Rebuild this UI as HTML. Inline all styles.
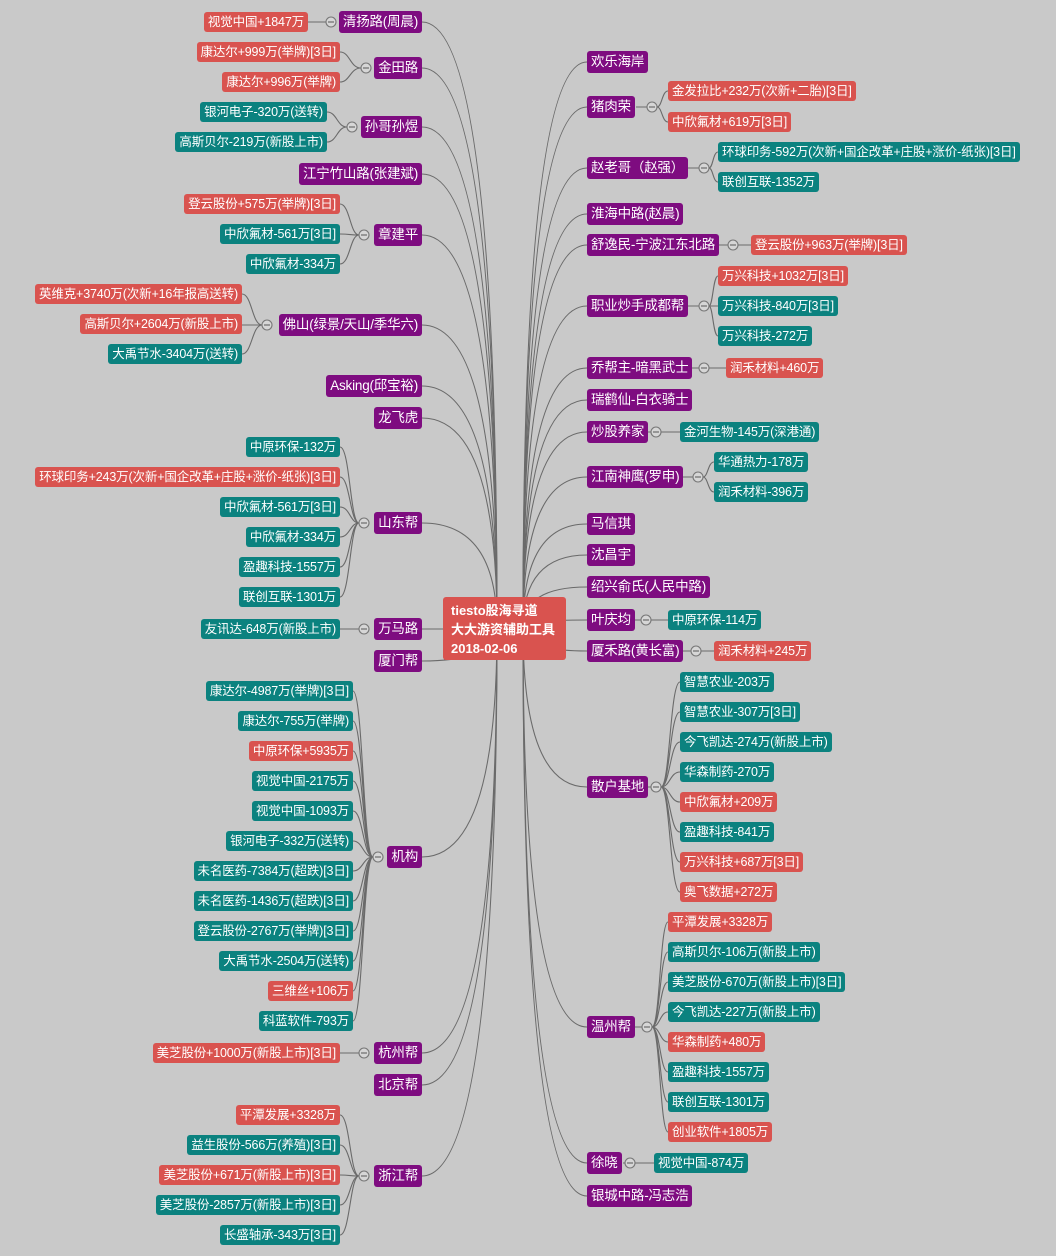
<!DOCTYPE html>
<html><head><meta charset="utf-8"><style>
body{margin:0;background:#c9c9c9;}
#c{position:relative;width:1056px;height:1256px;overflow:hidden;background:#c9c9c9;font-family:"Liberation Sans","Noto Sans CJK SC",sans-serif;}
.n{position:absolute;height:20px;line-height:20px;font-size:12.5px;color:#fff;padding:0 4px;border-radius:3px;white-space:nowrap;letter-spacing:-0.15px;}
.b{height:22px;line-height:22px;font-size:13.5px;letter-spacing:-0.2px;}
.p{background:#7e0c80}.r{background:#d9534f}.t{background:#0b827f}
svg{position:absolute;left:0;top:0}
</style></head><body><div id="c">
<svg width="1056" height="1256" fill="none" stroke="#6a6a6a" stroke-width="1.1">
<g>
<path d="M422 22Q497 22 497 628"/><path d="M422 68Q497 68 497 628"/><path d="M422 127Q497 127 497 628"/><path d="M422 174Q497 174 497 628"/><path d="M422 235Q497 235 497 628"/><path d="M422 325Q497 325 497 628"/><path d="M422 386Q497 386 497 628"/><path d="M422 418Q497 418 497 628"/><path d="M422 523Q497 523 497 628"/><path d="M422 629L497 629"/><path d="M422 661Q497 661 497 628"/><path d="M422 857Q497 857 497 628"/><path d="M422 1053Q497 1053 497 628"/><path d="M422 1085Q497 1085 497 628"/><path d="M422 1176Q497 1176 497 628"/>
<path d="M587 62Q523 62 523 628"/><path d="M587 107Q523 107 523 628"/><path d="M587 168Q523 168 523 628"/><path d="M587 214Q523 214 523 628"/><path d="M587 245Q523 245 523 628"/><path d="M587 306Q523 306 523 628"/><path d="M587 368Q523 368 523 628"/><path d="M587 400Q523 400 523 628"/><path d="M587 432Q523 432 523 628"/><path d="M587 477Q523 477 523 628"/><path d="M587 524Q523 524 523 628"/><path d="M587 555Q523 555 523 628"/><path d="M587 587Q523 587 523 628"/><path d="M587 620Q523 620 523 628"/><path d="M587 651Q523 651 523 628"/><path d="M587 787Q523 787 523 628"/><path d="M587 1027Q523 1027 523 628"/><path d="M587 1163Q523 1163 523 628"/><path d="M587 1196Q523 1196 523 628"/>
</g>
<g>
<path d="M308 22H326"/>
<path d="M361 68C350 68 350 52 340 52M361 68C350 68 350 82 340 82"/>
<path d="M347 127C337 127 337 112 327 112M347 127C337 127 337 142 327 142"/>
<path d="M359 235C350 235 350 204 340 204M359 235C350 235 350 234 340 234M359 235C350 235 350 264 340 264"/>
<path d="M262 325C252 325 252 294 242 294M262 325H242M262 325C252 325 252 354 242 354"/>
<path d="M359 523C350 523 350 447 340 447M359 523C350 523 350 477 340 477M359 523C350 523 350 507 340 507M359 523C350 523 350 537 340 537M359 523C350 523 350 567 340 567M359 523C350 523 350 597 340 597"/>
<path d="M340 629H359"/>
<path d="M373 857C363 857 363 691 353 691M373 857C363 857 363 721 353 721M373 857C363 857 363 751 353 751M373 857C363 857 363 781 353 781M373 857C363 857 363 811 353 811M373 857C363 857 363 841 353 841M373 857C363 857 363 871 353 871M373 857C363 857 363 901 353 901M373 857C363 857 363 931 353 931M373 857C363 857 363 961 353 961M373 857C363 857 363 991 353 991M373 857C363 857 363 1021 353 1021"/>
<path d="M340 1053H359"/>
<path d="M359 1176C350 1176 350 1115 340 1115M359 1176C350 1176 350 1145 340 1145M359 1176C350 1176 350 1175 340 1175M359 1176C350 1176 350 1205 340 1205M359 1176C350 1176 350 1235 340 1235"/>
<path d="M636 107H647M657 107C662 107 662 91 668 91M657 107C662 107 662 122 668 122"/>
<path d="M688 168H699M709 168C713 168 713 152 718 152M709 168C713 168 713 182 718 182"/>
<path d="M718 245H728M738 245H751"/>
<path d="M686 306H699M709 306C713 306 713 276 718 276M709 306H718M709 306C713 306 713 336 718 336"/>
<path d="M692 368H699M709 368H726"/>
<path d="M648 432H651M661 432H680"/>
<path d="M683 477H693M703 477C708 477 708 462 714 462M703 477C708 477 708 492 714 492"/>
<path d="M634 620H641M651 620H668"/>
<path d="M683 651H691M701 651H714"/>
<path d="M647 787H651M661 787C670 787 670 682 680 682M661 787C670 787 670 712 680 712M661 787C670 787 670 742 680 742M661 787C670 787 670 772 680 772M661 787C670 787 670 802 680 802M661 787C670 787 670 832 680 832M661 787C670 787 670 862 680 862M661 787C670 787 670 892 680 892"/>
<path d="M635 1027H642M652 1027C660 1027 660 922 668 922M652 1027C660 1027 660 952 668 952M652 1027C660 1027 660 982 668 982M652 1027C660 1027 660 1012 668 1012M652 1027C660 1027 660 1042 668 1042M652 1027C660 1027 660 1072 668 1072M652 1027C660 1027 660 1102 668 1102M652 1027C660 1027 660 1132 668 1132"/>
<path d="M623 1163H625M635 1163H654"/>
</g>
<g fill="#d6d6d6" stroke="#777">
<circle cx="331" cy="22" r="5"/><circle cx="366" cy="68" r="5"/><circle cx="352" cy="127" r="5"/><circle cx="364" cy="235" r="5"/><circle cx="267" cy="325" r="5"/><circle cx="364" cy="523" r="5"/><circle cx="364" cy="629" r="5"/><circle cx="378" cy="857" r="5"/><circle cx="364" cy="1053" r="5"/><circle cx="364" cy="1176" r="5"/>
<circle cx="652" cy="107" r="5"/><circle cx="704" cy="168" r="5"/><circle cx="733" cy="245" r="5"/><circle cx="704" cy="306" r="5"/><circle cx="704" cy="368" r="5"/><circle cx="656" cy="432" r="5"/><circle cx="698" cy="477" r="5"/><circle cx="646" cy="620" r="5"/><circle cx="696" cy="651" r="5"/><circle cx="656" cy="787" r="5"/><circle cx="647" cy="1027" r="5"/><circle cx="630" cy="1163" r="5"/>
</g>
<g stroke="#555"><path d="M328 22h6M363 68h6M349 127h6M361 235h6M264 325h6M361 523h6M361 629h6M375 857h6M361 1053h6M361 1176h6M649 107h6M701 168h6M730 245h6M701 306h6M701 368h6M653 432h6M695 477h6M643 620h6M693 651h6M653 787h6M644 1027h6M627 1163h6"/></g>
</svg>

<div class="n r" style="left:443px;top:597px;height:63px;line-height:19px;padding:4px;box-sizing:border-box;width:123px;font-weight:bold;font-size:13px;padding-left:8px;letter-spacing:0">tiesto股海寻道<br>大大游资辅助工具<br>2018-02-06</div>

<div class="n b p" style="right:634px;top:11px">清扬路(周晨)</div>
<div class="n b p" style="right:634px;top:57px">金田路</div>
<div class="n b p" style="right:634px;top:116px">孙哥孙煜</div>
<div class="n b p" style="right:634px;top:163px">江宁竹山路(张建斌)</div>
<div class="n b p" style="right:634px;top:224px">章建平</div>
<div class="n b p" style="right:634px;top:314px">佛山(绿景/天山/季华六)</div>
<div class="n b p" style="right:634px;top:375px">Asking(邱宝裕)</div>
<div class="n b p" style="right:634px;top:407px">龙飞虎</div>
<div class="n b p" style="right:634px;top:512px">山东帮</div>
<div class="n b p" style="right:634px;top:618px">万马路</div>
<div class="n b p" style="right:634px;top:650px">厦门帮</div>
<div class="n b p" style="right:634px;top:846px">机构</div>
<div class="n b p" style="right:634px;top:1042px">杭州帮</div>
<div class="n b p" style="right:634px;top:1074px">北京帮</div>
<div class="n b p" style="right:634px;top:1165px">浙江帮</div>

<div class="n r" style="right:748px;top:12px">视觉中国+1847万</div>
<div class="n r" style="right:716px;top:42px">康达尔+999万(举牌)[3日]</div>
<div class="n r" style="right:716px;top:72px">康达尔+996万(举牌)</div>
<div class="n t" style="right:729px;top:102px">银河电子-320万(送转)</div>
<div class="n t" style="right:729px;top:132px">高斯贝尔-219万(新股上市)</div>
<div class="n r" style="right:716px;top:194px">登云股份+575万(举牌)[3日]</div>
<div class="n t" style="right:716px;top:224px">中欣氟材-561万[3日]</div>
<div class="n t" style="right:716px;top:254px">中欣氟材-334万</div>
<div class="n r" style="right:814px;top:284px">英维克+3740万(次新+16年报高送转)</div>
<div class="n r" style="right:814px;top:314px">高斯贝尔+2604万(新股上市)</div>
<div class="n t" style="right:814px;top:344px">大禹节水-3404万(送转)</div>
<div class="n t" style="right:716px;top:437px">中原环保-132万</div>
<div class="n r" style="right:716px;top:467px">环球印务+243万(次新+国企改革+庄股+涨价-纸张)[3日]</div>
<div class="n t" style="right:716px;top:497px">中欣氟材-561万[3日]</div>
<div class="n t" style="right:716px;top:527px">中欣氟材-334万</div>
<div class="n t" style="right:716px;top:557px">盈趣科技-1557万</div>
<div class="n t" style="right:716px;top:587px">联创互联-1301万</div>
<div class="n t" style="right:716px;top:619px">友讯达-648万(新股上市)</div>
<div class="n t" style="right:703px;top:681px">康达尔-4987万(举牌)[3日]</div>
<div class="n t" style="right:703px;top:711px">康达尔-755万(举牌)</div>
<div class="n r" style="right:703px;top:741px">中原环保+5935万</div>
<div class="n t" style="right:703px;top:771px">视觉中国-2175万</div>
<div class="n t" style="right:703px;top:801px">视觉中国-1093万</div>
<div class="n t" style="right:703px;top:831px">银河电子-332万(送转)</div>
<div class="n t" style="right:703px;top:861px">未名医药-7384万(超跌)[3日]</div>
<div class="n t" style="right:703px;top:891px">未名医药-1436万(超跌)[3日]</div>
<div class="n t" style="right:703px;top:921px">登云股份-2767万(举牌)[3日]</div>
<div class="n t" style="right:703px;top:951px">大禹节水-2504万(送转)</div>
<div class="n r" style="right:703px;top:981px">三维丝+106万</div>
<div class="n t" style="right:703px;top:1011px">科蓝软件-793万</div>
<div class="n r" style="right:716px;top:1043px">美芝股份+1000万(新股上市)[3日]</div>
<div class="n r" style="right:716px;top:1105px">平潭发展+3328万</div>
<div class="n t" style="right:716px;top:1135px">益生股份-566万(养殖)[3日]</div>
<div class="n r" style="right:716px;top:1165px">美芝股份+671万(新股上市)[3日]</div>
<div class="n t" style="right:716px;top:1195px">美芝股份-2857万(新股上市)[3日]</div>
<div class="n t" style="right:716px;top:1225px">长盛轴承-343万[3日]</div>

<div class="n b p" style="left:587px;top:51px">欢乐海岸</div>
<div class="n b p" style="left:587px;top:96px">猪肉荣</div>
<div class="n b p" style="left:587px;top:157px">赵老哥（赵强）</div>
<div class="n b p" style="left:587px;top:203px">淮海中路(赵晨)</div>
<div class="n b p" style="left:587px;top:234px">舒逸民-宁波江东北路</div>
<div class="n b p" style="left:587px;top:295px">职业炒手成都帮</div>
<div class="n b p" style="left:587px;top:357px">乔帮主-暗黑武士</div>
<div class="n b p" style="left:587px;top:389px">瑞鹤仙-白衣骑士</div>
<div class="n b p" style="left:587px;top:421px">炒股养家</div>
<div class="n b p" style="left:587px;top:466px">江南神鹰(罗申)</div>
<div class="n b p" style="left:587px;top:513px">马信琪</div>
<div class="n b p" style="left:587px;top:544px">沈昌宇</div>
<div class="n b p" style="left:587px;top:576px">绍兴俞氏(人民中路)</div>
<div class="n b p" style="left:587px;top:609px">叶庆均</div>
<div class="n b p" style="left:587px;top:640px">厦禾路(黄长富)</div>
<div class="n b p" style="left:587px;top:776px">散户基地</div>
<div class="n b p" style="left:587px;top:1016px">温州帮</div>
<div class="n b p" style="left:587px;top:1152px">徐晓</div>
<div class="n b p" style="left:587px;top:1185px">银城中路-冯志浩</div>

<div class="n r" style="left:668px;top:81px">金发拉比+232万(次新+二胎)[3日]</div>
<div class="n r" style="left:668px;top:112px">中欣氟材+619万[3日]</div>
<div class="n t" style="left:718px;top:142px">环球印务-592万(次新+国企改革+庄股+涨价-纸张)[3日]</div>
<div class="n t" style="left:718px;top:172px">联创互联-1352万</div>
<div class="n r" style="left:751px;top:235px">登云股份+963万(举牌)[3日]</div>
<div class="n r" style="left:718px;top:266px">万兴科技+1032万[3日]</div>
<div class="n t" style="left:718px;top:296px">万兴科技-840万[3日]</div>
<div class="n t" style="left:718px;top:326px">万兴科技-272万</div>
<div class="n r" style="left:726px;top:358px">润禾材料+460万</div>
<div class="n t" style="left:680px;top:422px">金河生物-145万(深港通)</div>
<div class="n t" style="left:714px;top:452px">华通热力-178万</div>
<div class="n t" style="left:714px;top:482px">润禾材料-396万</div>
<div class="n t" style="left:668px;top:610px">中原环保-114万</div>
<div class="n r" style="left:714px;top:641px">润禾材料+245万</div>
<div class="n t" style="left:680px;top:672px">智慧农业-203万</div>
<div class="n t" style="left:680px;top:702px">智慧农业-307万[3日]</div>
<div class="n t" style="left:680px;top:732px">今飞凯达-274万(新股上市)</div>
<div class="n t" style="left:680px;top:762px">华森制药-270万</div>
<div class="n r" style="left:680px;top:792px">中欣氟材+209万</div>
<div class="n t" style="left:680px;top:822px">盈趣科技-841万</div>
<div class="n r" style="left:680px;top:852px">万兴科技+687万[3日]</div>
<div class="n r" style="left:680px;top:882px">奥飞数据+272万</div>
<div class="n r" style="left:668px;top:912px">平潭发展+3328万</div>
<div class="n t" style="left:668px;top:942px">高斯贝尔-106万(新股上市)</div>
<div class="n t" style="left:668px;top:972px">美芝股份-670万(新股上市)[3日]</div>
<div class="n t" style="left:668px;top:1002px">今飞凯达-227万(新股上市)</div>
<div class="n r" style="left:668px;top:1032px">华森制药+480万</div>
<div class="n t" style="left:668px;top:1062px">盈趣科技-1557万</div>
<div class="n t" style="left:668px;top:1092px">联创互联-1301万</div>
<div class="n r" style="left:668px;top:1122px">创业软件+1805万</div>
<div class="n t" style="left:654px;top:1153px">视觉中国-874万</div>
</div></body></html>
